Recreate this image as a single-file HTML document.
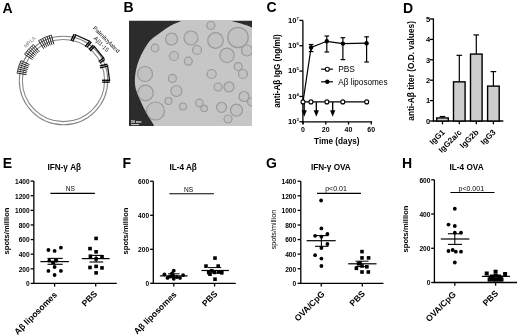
<!DOCTYPE html>
<html><head><meta charset="utf-8"><style>
html,body{margin:0;padding:0;background:#fff;overflow:hidden;}
svg{display:block;font-family:"Liberation Sans", sans-serif;filter:grayscale(100%);}
</style></head><body>
<svg width="520" height="336" viewBox="0 0 520 336">
<rect width="520" height="336" fill="#fff"/>
<text x="2.60" y="12.50" font-size="14" font-weight="bold" text-anchor="start" fill="#000">A</text>
<text x="123.60" y="12.30" font-size="14" font-weight="bold" text-anchor="start" fill="#000">B</text>
<text x="266.60" y="12.30" font-size="14" font-weight="bold" text-anchor="start" fill="#000">C</text>
<text x="403.00" y="12.50" font-size="14" font-weight="bold" text-anchor="start" fill="#000">D</text>
<text x="2.80" y="168.20" font-size="14" font-weight="bold" text-anchor="start" fill="#000">E</text>
<text x="122.60" y="168.20" font-size="14" font-weight="bold" text-anchor="start" fill="#000">F</text>
<text x="266.00" y="168.30" font-size="14" font-weight="bold" text-anchor="start" fill="#000">G</text>
<text x="402.00" y="168.20" font-size="14" font-weight="bold" text-anchor="start" fill="#000">H</text>
<circle cx="63.5" cy="80.5" r="44.2" fill="none" stroke="#858585" stroke-width="1.05"/>
<circle cx="63.5" cy="80.5" r="41.1" fill="none" stroke="#858585" stroke-width="1.05"/>
<line x1="26.46" y1="74.63" x2="17.08" y2="73.15" stroke="#262626" stroke-width="1.0" stroke-linecap="butt"/>
<line x1="26.77" y1="72.92" x2="17.47" y2="71.00" stroke="#262626" stroke-width="1.0" stroke-linecap="butt"/>
<line x1="27.17" y1="71.22" x2="17.96" y2="68.86" stroke="#262626" stroke-width="1.0" stroke-linecap="butt"/>
<line x1="27.64" y1="69.54" x2="18.55" y2="66.76" stroke="#262626" stroke-width="1.0" stroke-linecap="butt"/>
<line x1="28.19" y1="67.88" x2="19.24" y2="64.68" stroke="#262626" stroke-width="1.0" stroke-linecap="butt"/>
<line x1="28.81" y1="66.25" x2="20.03" y2="62.64" stroke="#262626" stroke-width="1.0" stroke-linecap="butt"/>
<line x1="29.51" y1="64.65" x2="20.90" y2="60.64" stroke="#262626" stroke-width="1.0" stroke-linecap="butt"/>
<path d="M17.08,73.15 A47,47 0 0 1 20.90,60.64" fill="none" stroke="#333" stroke-width="0.9"/>
<line x1="32.41" y1="59.53" x2="24.54" y2="54.22" stroke="#262626" stroke-width="1.0" stroke-linecap="butt"/>
<line x1="33.42" y1="58.11" x2="25.80" y2="52.43" stroke="#262626" stroke-width="1.0" stroke-linecap="butt"/>
<line x1="34.49" y1="56.73" x2="27.15" y2="50.71" stroke="#262626" stroke-width="1.0" stroke-linecap="butt"/>
<line x1="35.63" y1="55.41" x2="28.57" y2="49.05" stroke="#262626" stroke-width="1.0" stroke-linecap="butt"/>
<line x1="36.83" y1="54.14" x2="30.07" y2="47.46" stroke="#262626" stroke-width="1.0" stroke-linecap="butt"/>
<line x1="38.09" y1="52.93" x2="31.65" y2="45.94" stroke="#262626" stroke-width="1.0" stroke-linecap="butt"/>
<line x1="39.40" y1="51.77" x2="33.29" y2="44.50" stroke="#262626" stroke-width="1.0" stroke-linecap="butt"/>
<path d="M24.54,54.22 A47,47 0 0 1 33.29,44.50" fill="none" stroke="#333" stroke-width="0.9"/>
<line x1="43.63" y1="48.70" x2="38.59" y2="40.64" stroke="#262626" stroke-width="1.0" stroke-linecap="butt"/>
<line x1="45.22" y1="47.75" x2="40.59" y2="39.46" stroke="#262626" stroke-width="1.0" stroke-linecap="butt"/>
<line x1="46.87" y1="46.89" x2="42.65" y2="38.38" stroke="#262626" stroke-width="1.0" stroke-linecap="butt"/>
<line x1="48.55" y1="46.11" x2="44.76" y2="37.40" stroke="#262626" stroke-width="1.0" stroke-linecap="butt"/>
<line x1="50.27" y1="45.41" x2="46.91" y2="36.52" stroke="#262626" stroke-width="1.0" stroke-linecap="butt"/>
<line x1="52.02" y1="44.80" x2="49.11" y2="35.76" stroke="#262626" stroke-width="1.0" stroke-linecap="butt"/>
<line x1="53.79" y1="44.28" x2="51.34" y2="35.10" stroke="#262626" stroke-width="1.0" stroke-linecap="butt"/>
<path d="M38.59,40.64 A47,47 0 0 1 51.34,35.10" fill="none" stroke="#333" stroke-width="0.9"/>
<text x="0.00" y="0.00" font-size="5.2" font-weight="normal" text-anchor="middle" fill="#777" transform="translate(30.90,43.30) rotate(-42)">MPLA</text>
<line x1="74.90" y1="34.50" x2="90.50" y2="41.60" stroke="#111" stroke-width="1.25" stroke-linecap="butt"/>
<line x1="70.94" y1="40.81" x2="74.04" y2="34.11" stroke="#000" stroke-width="1.35" stroke-linecap="butt"/>
<line x1="72.66" y1="41.59" x2="75.76" y2="34.89" stroke="#000" stroke-width="1.35" stroke-linecap="butt"/>
<line x1="85.14" y1="46.61" x2="89.64" y2="41.21" stroke="#000" stroke-width="1.35" stroke-linecap="butt"/>
<line x1="86.86" y1="47.39" x2="91.36" y2="41.99" stroke="#000" stroke-width="1.35" stroke-linecap="butt"/>
<line x1="93.90" y1="45.80" x2="104.20" y2="58.75" stroke="#111" stroke-width="1.25" stroke-linecap="butt"/>
<line x1="88.91" y1="49.56" x2="93.31" y2="45.06" stroke="#000" stroke-width="1.35" stroke-linecap="butt"/>
<line x1="90.09" y1="51.04" x2="94.49" y2="46.54" stroke="#000" stroke-width="1.35" stroke-linecap="butt"/>
<line x1="98.71" y1="61.56" x2="103.61" y2="58.01" stroke="#000" stroke-width="1.35" stroke-linecap="butt"/>
<line x1="99.89" y1="63.04" x2="104.79" y2="59.49" stroke="#000" stroke-width="1.35" stroke-linecap="butt"/>
<line x1="107.50" y1="65.20" x2="109.70" y2="81.20" stroke="#111" stroke-width="1.25" stroke-linecap="butt"/>
<line x1="99.77" y1="65.96" x2="107.37" y2="64.26" stroke="#000" stroke-width="1.35" stroke-linecap="butt"/>
<line x1="100.03" y1="67.84" x2="107.63" y2="66.14" stroke="#000" stroke-width="1.35" stroke-linecap="butt"/>
<line x1="101.97" y1="80.26" x2="109.57" y2="80.26" stroke="#000" stroke-width="1.35" stroke-linecap="butt"/>
<line x1="102.23" y1="82.14" x2="109.83" y2="82.14" stroke="#000" stroke-width="1.35" stroke-linecap="butt"/>
<text x="0.00" y="0.00" font-size="5.9" font-weight="normal" text-anchor="middle" fill="#111" transform="translate(105.00,40.90) rotate(45)">Palmitoylated</text>
<text x="0.00" y="0.00" font-size="5.9" font-weight="normal" text-anchor="middle" fill="#111" transform="translate(99.90,45.60) rotate(45)">A&#946;1-15</text>
<defs><clipPath id="cb"><rect x="129" y="20.5" width="123" height="105.5"/></clipPath><filter id="nz" x="0" y="0" width="100%" height="100%"><feTurbulence type="fractalNoise" baseFrequency="0.9" numOctaves="2" seed="3"/><feColorMatrix type="matrix" values="0 0 0 0 0.5  0 0 0 0 0.5  0 0 0 0 0.5  0 0 0 0.35 0"/></filter></defs>
<g clip-path="url(#cb)">
<rect x="129" y="20.5" width="123" height="105.5" fill="#252525"/>
<path d="M155.50,130.00 C155.17,129.12 154.82,127.22 153.50,124.70 C152.18,122.18 149.27,117.77 147.60,114.90 C145.93,112.03 144.80,110.12 143.50,107.50 C142.20,104.88 141.08,102.28 139.80,99.20 C138.52,96.12 136.62,92.27 135.80,89.00 C134.98,85.73 134.87,82.77 134.90,79.60 C134.93,76.43 135.32,73.27 136.00,70.00 C136.68,66.73 137.68,63.37 139.00,60.00 C140.32,56.63 141.98,53.10 143.90,49.80 C145.82,46.50 147.62,43.18 150.50,40.20 C153.38,37.22 157.78,34.35 161.20,31.90 C164.62,29.45 167.43,27.40 171.00,25.50 C174.57,23.60 179.77,21.75 182.60,20.50 C185.43,19.25 187.10,18.42 188.00,18.00 L229.00,18.00 C229.25,18.42 228.50,19.57 230.50,20.50 C232.50,21.43 237.48,22.45 241.00,23.60 C244.52,24.75 248.77,26.17 251.60,27.40 C254.43,28.63 256.93,30.40 258.00,31.00 L258,132 Z" fill="#c7c7c7"/>
<clipPath id="ce"><path d="M155.50,130.00 C155.17,129.12 154.82,127.22 153.50,124.70 C152.18,122.18 149.27,117.77 147.60,114.90 C145.93,112.03 144.80,110.12 143.50,107.50 C142.20,104.88 141.08,102.28 139.80,99.20 C138.52,96.12 136.62,92.27 135.80,89.00 C134.98,85.73 134.87,82.77 134.90,79.60 C134.93,76.43 135.32,73.27 136.00,70.00 C136.68,66.73 137.68,63.37 139.00,60.00 C140.32,56.63 141.98,53.10 143.90,49.80 C145.82,46.50 147.62,43.18 150.50,40.20 C153.38,37.22 157.78,34.35 161.20,31.90 C164.62,29.45 167.43,27.40 171.00,25.50 C174.57,23.60 179.77,21.75 182.60,20.50 C185.43,19.25 187.10,18.42 188.00,18.00 L229.00,18.00 C229.25,18.42 228.50,19.57 230.50,20.50 C232.50,21.43 237.48,22.45 241.00,23.60 C244.52,24.75 248.77,26.17 251.60,27.40 C254.43,28.63 256.93,30.40 258.00,31.00 L258,132 Z"/></clipPath>
<g clip-path="url(#ce)">
<circle cx="171.5" cy="39" r="6" fill="#c2c2c2" stroke="#999999" stroke-width="1.2"/>
<circle cx="174" cy="56" r="4.5" fill="#c2c2c2" stroke="#999999" stroke-width="1.2"/>
<circle cx="155" cy="48" r="3.8" fill="#c2c2c2" stroke="#999999" stroke-width="1.2"/>
<circle cx="191" cy="38" r="7" fill="#c2c2c2" stroke="#999999" stroke-width="1.2"/>
<circle cx="146.7" cy="71.4" r="4" fill="#c2c2c2" stroke="#999999" stroke-width="1.2"/>
<circle cx="188.3" cy="61.2" r="4" fill="#c2c2c2" stroke="#999999" stroke-width="1.2"/>
<circle cx="215.5" cy="40.5" r="7.8" fill="#c2c2c2" stroke="#999999" stroke-width="1.2"/>
<circle cx="238" cy="37.5" r="10.2" fill="#c2c2c2" stroke="#999999" stroke-width="1.2"/>
<circle cx="227" cy="55.3" r="7.2" fill="#c2c2c2" stroke="#999999" stroke-width="1.2"/>
<circle cx="197" cy="50" r="4.5" fill="#c2c2c2" stroke="#999999" stroke-width="1.2"/>
<circle cx="210.9" cy="25.5" r="4" fill="#c2c2c2" stroke="#999999" stroke-width="1.2"/>
<circle cx="247" cy="50.5" r="5.5" fill="#c2c2c2" stroke="#999999" stroke-width="1.2"/>
<circle cx="238.2" cy="66.6" r="4" fill="#c2c2c2" stroke="#999999" stroke-width="1.2"/>
<circle cx="145" cy="74" r="7.5" fill="#c2c2c2" stroke="#999999" stroke-width="1.2"/>
<circle cx="145.5" cy="93" r="7.8" fill="#c2c2c2" stroke="#999999" stroke-width="1.2"/>
<circle cx="155.5" cy="111" r="9" fill="#c2c2c2" stroke="#999999" stroke-width="1.2"/>
<circle cx="172.4" cy="78.4" r="4" fill="#c2c2c2" stroke="#999999" stroke-width="1.2"/>
<circle cx="176.4" cy="91" r="5.5" fill="#c2c2c2" stroke="#999999" stroke-width="1.2"/>
<circle cx="168.5" cy="101" r="3.5" fill="#c2c2c2" stroke="#999999" stroke-width="1.2"/>
<circle cx="183" cy="106.5" r="3.5" fill="#c2c2c2" stroke="#999999" stroke-width="1.2"/>
<circle cx="211.7" cy="74" r="4.5" fill="#c2c2c2" stroke="#999999" stroke-width="1.2"/>
<circle cx="218" cy="87" r="4" fill="#c2c2c2" stroke="#999999" stroke-width="1.2"/>
<circle cx="229" cy="86.8" r="5" fill="#c2c2c2" stroke="#999999" stroke-width="1.2"/>
<circle cx="221.5" cy="107.3" r="5" fill="#c2c2c2" stroke="#999999" stroke-width="1.2"/>
<circle cx="236.5" cy="110.2" r="6" fill="#c2c2c2" stroke="#999999" stroke-width="1.2"/>
<circle cx="199.4" cy="103" r="3.8" fill="#c2c2c2" stroke="#999999" stroke-width="1.2"/>
<circle cx="204.2" cy="108.5" r="3.2" fill="#c2c2c2" stroke="#999999" stroke-width="1.2"/>
<circle cx="244" cy="96.5" r="5" fill="#c2c2c2" stroke="#999999" stroke-width="1.2"/>
<circle cx="243" cy="74" r="4.5" fill="#c2c2c2" stroke="#999999" stroke-width="1.2"/>
<circle cx="228" cy="119" r="4" fill="#c2c2c2" stroke="#999999" stroke-width="1.2"/>
<circle cx="251.6" cy="102" r="4" fill="#c2c2c2" stroke="#999999" stroke-width="1.2"/>
</g>
<rect x="129" y="20.5" width="123" height="105.5" filter="url(#nz)" opacity="0.3"/>
</g>
<text x="131.00" y="123.00" font-size="3.6" font-weight="bold" text-anchor="start" fill="#fff">50 nm</text>
<line x1="131.00" y1="124.60" x2="139.00" y2="124.60" stroke="#fff" stroke-width="0.8" stroke-linecap="butt"/>
<line x1="302.90" y1="20.40" x2="302.90" y2="124.30" stroke="#000" stroke-width="1.3" stroke-linecap="butt"/>
<line x1="302.30" y1="121.80" x2="372.10" y2="121.80" stroke="#000" stroke-width="1.3" stroke-linecap="butt"/>
<line x1="299.40" y1="121.80" x2="302.90" y2="121.80" stroke="#000" stroke-width="1.3" stroke-linecap="butt"/>
<text x="296.40" y="124.00" font-size="7.6" font-weight="bold" text-anchor="end" fill="#000">10</text>
<text x="296.50" y="120.90" font-size="4.2" font-weight="bold" text-anchor="start" fill="#000">3</text>
<line x1="299.40" y1="96.45" x2="302.90" y2="96.45" stroke="#000" stroke-width="1.3" stroke-linecap="butt"/>
<text x="296.40" y="98.65" font-size="7.6" font-weight="bold" text-anchor="end" fill="#000">10</text>
<text x="296.50" y="95.55" font-size="4.2" font-weight="bold" text-anchor="start" fill="#000">4</text>
<line x1="299.40" y1="71.10" x2="302.90" y2="71.10" stroke="#000" stroke-width="1.3" stroke-linecap="butt"/>
<text x="296.40" y="73.30" font-size="7.6" font-weight="bold" text-anchor="end" fill="#000">10</text>
<text x="296.50" y="70.20" font-size="4.2" font-weight="bold" text-anchor="start" fill="#000">5</text>
<line x1="299.40" y1="45.75" x2="302.90" y2="45.75" stroke="#000" stroke-width="1.3" stroke-linecap="butt"/>
<text x="296.40" y="47.95" font-size="7.6" font-weight="bold" text-anchor="end" fill="#000">10</text>
<text x="296.50" y="44.85" font-size="4.2" font-weight="bold" text-anchor="start" fill="#000">6</text>
<line x1="299.40" y1="20.40" x2="302.90" y2="20.40" stroke="#000" stroke-width="1.3" stroke-linecap="butt"/>
<text x="296.40" y="22.60" font-size="7.6" font-weight="bold" text-anchor="end" fill="#000">10</text>
<text x="296.50" y="19.50" font-size="4.2" font-weight="bold" text-anchor="start" fill="#000">7</text>
<line x1="303.00" y1="121.80" x2="303.00" y2="124.60" stroke="#000" stroke-width="1.3" stroke-linecap="butt"/>
<text x="303.00" y="132.20" font-size="7" font-weight="bold" text-anchor="middle" fill="#000">0</text>
<line x1="325.75" y1="121.80" x2="325.75" y2="124.60" stroke="#000" stroke-width="1.3" stroke-linecap="butt"/>
<text x="325.75" y="132.20" font-size="7" font-weight="bold" text-anchor="middle" fill="#000">20</text>
<line x1="348.50" y1="121.80" x2="348.50" y2="124.60" stroke="#000" stroke-width="1.3" stroke-linecap="butt"/>
<text x="348.50" y="132.20" font-size="7" font-weight="bold" text-anchor="middle" fill="#000">40</text>
<line x1="371.25" y1="121.80" x2="371.25" y2="124.60" stroke="#000" stroke-width="1.3" stroke-linecap="butt"/>
<text x="371.25" y="132.20" font-size="7" font-weight="bold" text-anchor="middle" fill="#000">60</text>
<text x="336.80" y="143.60" font-size="8.2" font-weight="bold" text-anchor="middle" fill="#000">Time (days)</text>
<text x="0.00" y="0.00" font-size="8.2" font-weight="bold" text-anchor="middle" fill="#000" transform="translate(280.00,71.00) rotate(-90)">anti-A&#946; IgG (ng/ml)</text>
<line x1="304.20" y1="102.00" x2="304.20" y2="112.00" stroke="#000" stroke-width="1.3" stroke-linecap="butt"/>
<path d="M301.60,110.2 L306.80,110.2 L304.20,116.7 Z" fill="#000"/>
<line x1="316.30" y1="102.00" x2="316.30" y2="112.00" stroke="#000" stroke-width="1.3" stroke-linecap="butt"/>
<path d="M313.70,110.2 L318.90,110.2 L316.30,116.7 Z" fill="#000"/>
<line x1="332.70" y1="102.00" x2="332.70" y2="112.00" stroke="#000" stroke-width="1.3" stroke-linecap="butt"/>
<path d="M330.10,110.2 L335.30,110.2 L332.70,116.7 Z" fill="#000"/>
<line x1="303.00" y1="101.90" x2="366.70" y2="101.90" stroke="#000" stroke-width="1.2" stroke-linecap="butt"/>
<polyline points="303.00,101.90 311.10,47.50 326.80,41.30 342.90,43.60 366.60,43.20" fill="none" stroke="#000" stroke-width="1.2"/>
<line x1="311.10" y1="44.50" x2="311.10" y2="51.60" stroke="#000" stroke-width="1.2" stroke-linecap="butt"/>
<line x1="308.80" y1="44.50" x2="313.40" y2="44.50" stroke="#000" stroke-width="1.2" stroke-linecap="butt"/>
<line x1="308.80" y1="51.60" x2="313.40" y2="51.60" stroke="#000" stroke-width="1.2" stroke-linecap="butt"/>
<circle cx="311.10" cy="47.50" r="2.2" fill="#000" stroke="none" stroke-width="0"/>
<line x1="326.80" y1="36.00" x2="326.80" y2="52.00" stroke="#000" stroke-width="1.2" stroke-linecap="butt"/>
<line x1="324.50" y1="36.00" x2="329.10" y2="36.00" stroke="#000" stroke-width="1.2" stroke-linecap="butt"/>
<line x1="324.50" y1="52.00" x2="329.10" y2="52.00" stroke="#000" stroke-width="1.2" stroke-linecap="butt"/>
<circle cx="326.80" cy="41.30" r="2.2" fill="#000" stroke="none" stroke-width="0"/>
<line x1="342.90" y1="37.70" x2="342.90" y2="59.60" stroke="#000" stroke-width="1.2" stroke-linecap="butt"/>
<line x1="340.60" y1="37.70" x2="345.20" y2="37.70" stroke="#000" stroke-width="1.2" stroke-linecap="butt"/>
<line x1="340.60" y1="59.60" x2="345.20" y2="59.60" stroke="#000" stroke-width="1.2" stroke-linecap="butt"/>
<circle cx="342.90" cy="43.60" r="2.2" fill="#000" stroke="none" stroke-width="0"/>
<line x1="366.60" y1="36.80" x2="366.60" y2="62.00" stroke="#000" stroke-width="1.2" stroke-linecap="butt"/>
<line x1="364.30" y1="36.80" x2="368.90" y2="36.80" stroke="#000" stroke-width="1.2" stroke-linecap="butt"/>
<line x1="364.30" y1="62.00" x2="368.90" y2="62.00" stroke="#000" stroke-width="1.2" stroke-linecap="butt"/>
<circle cx="366.60" cy="43.20" r="2.2" fill="#000" stroke="none" stroke-width="0"/>
<circle cx="303.00" cy="101.90" r="2.0" fill="#fff" stroke="#000" stroke-width="1.1"/>
<circle cx="310.96" cy="101.90" r="2.0" fill="#fff" stroke="#000" stroke-width="1.1"/>
<circle cx="326.89" cy="101.90" r="2.0" fill="#fff" stroke="#000" stroke-width="1.1"/>
<circle cx="342.81" cy="101.90" r="2.0" fill="#fff" stroke="#000" stroke-width="1.1"/>
<circle cx="366.70" cy="101.90" r="2.0" fill="#fff" stroke="#000" stroke-width="1.1"/>
<line x1="321.10" y1="69.20" x2="332.90" y2="69.20" stroke="#000" stroke-width="1.2" stroke-linecap="butt"/>
<circle cx="327.30" cy="69.20" r="2.0" fill="#fff" stroke="#000" stroke-width="1.1"/>
<text x="338.20" y="72.20" font-size="8.4" font-weight="normal" text-anchor="start" fill="#000">PBS</text>
<line x1="321.10" y1="81.80" x2="332.90" y2="81.80" stroke="#000" stroke-width="1.2" stroke-linecap="butt"/>
<circle cx="327.30" cy="81.80" r="2.2" fill="#000" stroke="none" stroke-width="0"/>
<text x="338.20" y="84.60" font-size="8.2" font-weight="normal" text-anchor="start" fill="#000">A&#946; liposomes</text>
<line x1="433.40" y1="18.40" x2="433.40" y2="121.60" stroke="#000" stroke-width="1.3" stroke-linecap="butt"/>
<line x1="432.80" y1="121.00" x2="503.30" y2="121.00" stroke="#000" stroke-width="1.3" stroke-linecap="butt"/>
<line x1="429.80" y1="121.00" x2="433.40" y2="121.00" stroke="#000" stroke-width="1.3" stroke-linecap="butt"/>
<text x="430.20" y="123.70" font-size="7.5" font-weight="bold" text-anchor="end" fill="#000">0</text>
<line x1="429.80" y1="100.60" x2="433.40" y2="100.60" stroke="#000" stroke-width="1.3" stroke-linecap="butt"/>
<text x="430.20" y="103.30" font-size="7.5" font-weight="bold" text-anchor="end" fill="#000">1</text>
<line x1="429.80" y1="80.20" x2="433.40" y2="80.20" stroke="#000" stroke-width="1.3" stroke-linecap="butt"/>
<text x="430.20" y="82.90" font-size="7.5" font-weight="bold" text-anchor="end" fill="#000">2</text>
<line x1="429.80" y1="59.80" x2="433.40" y2="59.80" stroke="#000" stroke-width="1.3" stroke-linecap="butt"/>
<text x="430.20" y="62.50" font-size="7.5" font-weight="bold" text-anchor="end" fill="#000">3</text>
<line x1="429.80" y1="39.40" x2="433.40" y2="39.40" stroke="#000" stroke-width="1.3" stroke-linecap="butt"/>
<text x="430.20" y="42.10" font-size="7.5" font-weight="bold" text-anchor="end" fill="#000">4</text>
<line x1="429.80" y1="19.00" x2="433.40" y2="19.00" stroke="#000" stroke-width="1.3" stroke-linecap="butt"/>
<text x="430.20" y="21.70" font-size="7.5" font-weight="bold" text-anchor="end" fill="#000">5</text>
<line x1="442.50" y1="116.51" x2="442.50" y2="117.94" stroke="#000" stroke-width="1.2" stroke-linecap="butt"/>
<line x1="439.70" y1="116.51" x2="445.30" y2="116.51" stroke="#000" stroke-width="1.2" stroke-linecap="butt"/>
<rect x="436.70" y="117.94" width="11.6" height="3.06" fill="#cdcdcd" stroke="#000" stroke-width="1.4"/>
<line x1="442.50" y1="121.00" x2="442.50" y2="124.30" stroke="#000" stroke-width="1.3" stroke-linecap="butt"/>
<text x="0.00" y="0.00" font-size="8.0" font-weight="bold" text-anchor="end" fill="#000" transform="translate(445.30,132.80) rotate(-45)">IgG1</text>
<line x1="459.30" y1="55.31" x2="459.30" y2="81.83" stroke="#000" stroke-width="1.2" stroke-linecap="butt"/>
<line x1="456.50" y1="55.31" x2="462.10" y2="55.31" stroke="#000" stroke-width="1.2" stroke-linecap="butt"/>
<rect x="453.50" y="81.83" width="11.6" height="39.17" fill="#cdcdcd" stroke="#000" stroke-width="1.4"/>
<line x1="459.30" y1="121.00" x2="459.30" y2="124.30" stroke="#000" stroke-width="1.3" stroke-linecap="butt"/>
<text x="0.00" y="0.00" font-size="8.0" font-weight="bold" text-anchor="end" fill="#000" transform="translate(462.10,132.80) rotate(-45)">IgG2a/c</text>
<line x1="476.30" y1="34.91" x2="476.30" y2="54.09" stroke="#000" stroke-width="1.2" stroke-linecap="butt"/>
<line x1="473.50" y1="34.91" x2="479.10" y2="34.91" stroke="#000" stroke-width="1.2" stroke-linecap="butt"/>
<rect x="470.50" y="54.09" width="11.6" height="66.91" fill="#cdcdcd" stroke="#000" stroke-width="1.4"/>
<line x1="476.30" y1="121.00" x2="476.30" y2="124.30" stroke="#000" stroke-width="1.3" stroke-linecap="butt"/>
<text x="0.00" y="0.00" font-size="8.0" font-weight="bold" text-anchor="end" fill="#000" transform="translate(479.10,132.80) rotate(-45)">IgG2b</text>
<line x1="493.40" y1="71.63" x2="493.40" y2="86.12" stroke="#000" stroke-width="1.2" stroke-linecap="butt"/>
<line x1="490.60" y1="71.63" x2="496.20" y2="71.63" stroke="#000" stroke-width="1.2" stroke-linecap="butt"/>
<rect x="487.60" y="86.12" width="11.6" height="34.88" fill="#cdcdcd" stroke="#000" stroke-width="1.4"/>
<line x1="493.40" y1="121.00" x2="493.40" y2="124.30" stroke="#000" stroke-width="1.3" stroke-linecap="butt"/>
<text x="0.00" y="0.00" font-size="8.0" font-weight="bold" text-anchor="end" fill="#000" transform="translate(496.20,132.80) rotate(-45)">IgG3</text>
<text x="0.00" y="0.00" font-size="8.3" font-weight="bold" text-anchor="middle" fill="#000" transform="translate(414.40,70.90) rotate(-90)">anti-A&#946; titer (O.D. values)</text>
<line x1="33.85" y1="181.10" x2="33.85" y2="284.00" stroke="#000" stroke-width="1.3" stroke-linecap="butt"/>
<line x1="33.25" y1="283.40" x2="116.80" y2="283.40" stroke="#000" stroke-width="1.3" stroke-linecap="butt"/>
<line x1="30.65" y1="283.40" x2="33.85" y2="283.40" stroke="#000" stroke-width="1.3" stroke-linecap="butt"/>
<text x="29.70" y="286.30" font-size="6.6" font-weight="bold" text-anchor="end" fill="#000">0</text>
<line x1="30.65" y1="268.79" x2="33.85" y2="268.79" stroke="#000" stroke-width="1.3" stroke-linecap="butt"/>
<text x="29.70" y="271.69" font-size="6.6" font-weight="bold" text-anchor="end" fill="#000">200</text>
<line x1="30.65" y1="254.17" x2="33.85" y2="254.17" stroke="#000" stroke-width="1.3" stroke-linecap="butt"/>
<text x="29.70" y="257.07" font-size="6.6" font-weight="bold" text-anchor="end" fill="#000">400</text>
<line x1="30.65" y1="239.56" x2="33.85" y2="239.56" stroke="#000" stroke-width="1.3" stroke-linecap="butt"/>
<text x="29.70" y="242.46" font-size="6.6" font-weight="bold" text-anchor="end" fill="#000">600</text>
<line x1="30.65" y1="224.94" x2="33.85" y2="224.94" stroke="#000" stroke-width="1.3" stroke-linecap="butt"/>
<text x="29.70" y="227.84" font-size="6.6" font-weight="bold" text-anchor="end" fill="#000">800</text>
<line x1="30.65" y1="210.33" x2="33.85" y2="210.33" stroke="#000" stroke-width="1.3" stroke-linecap="butt"/>
<text x="29.70" y="213.23" font-size="6.6" font-weight="bold" text-anchor="end" fill="#000">1000</text>
<line x1="30.65" y1="195.71" x2="33.85" y2="195.71" stroke="#000" stroke-width="1.3" stroke-linecap="butt"/>
<text x="29.70" y="198.61" font-size="6.6" font-weight="bold" text-anchor="end" fill="#000">1200</text>
<line x1="30.65" y1="181.10" x2="33.85" y2="181.10" stroke="#000" stroke-width="1.3" stroke-linecap="butt"/>
<text x="29.70" y="184.00" font-size="6.6" font-weight="bold" text-anchor="end" fill="#000">1400</text>
<line x1="54.60" y1="283.40" x2="54.60" y2="286.60" stroke="#000" stroke-width="1.3" stroke-linecap="butt"/>
<line x1="95.70" y1="283.40" x2="95.70" y2="286.60" stroke="#000" stroke-width="1.3" stroke-linecap="butt"/>
<text x="47.40" y="170.00" font-size="8.2" font-weight="bold" text-anchor="start" fill="#000">IFN-&#947; A&#946;</text>
<line x1="50.40" y1="193.40" x2="94.90" y2="193.40" stroke="#000" stroke-width="1.1" stroke-linecap="butt"/>
<text x="70.30" y="191.40" font-size="6.6" font-weight="normal" text-anchor="middle" fill="#000">NS</text>
<text x="0.00" y="0.00" font-size="7.6" font-weight="bold" text-anchor="middle" fill="#000" transform="translate(9.40,231.00) rotate(-90)">spots/million</text>
<text x="0.00" y="0.00" font-size="8.6" font-weight="bold" text-anchor="end" fill="#000" transform="translate(57.60,295.40) rotate(-45)">A&#946; liposomes</text>
<text x="0.00" y="0.00" font-size="8.6" font-weight="bold" text-anchor="end" fill="#000" transform="translate(97.80,294.40) rotate(-45)">PBS</text>
<circle cx="48.40" cy="250.00" r="1.9" fill="#000" stroke="none" stroke-width="0"/>
<circle cx="54.60" cy="250.90" r="1.9" fill="#000" stroke="none" stroke-width="0"/>
<circle cx="60.90" cy="247.70" r="1.9" fill="#000" stroke="none" stroke-width="0"/>
<circle cx="49.30" cy="260.70" r="1.9" fill="#000" stroke="none" stroke-width="0"/>
<circle cx="52.90" cy="262.50" r="1.9" fill="#000" stroke="none" stroke-width="0"/>
<circle cx="56.40" cy="260.70" r="1.9" fill="#000" stroke="none" stroke-width="0"/>
<circle cx="54.60" cy="267.00" r="1.9" fill="#000" stroke="none" stroke-width="0"/>
<circle cx="48.40" cy="270.90" r="1.9" fill="#000" stroke="none" stroke-width="0"/>
<circle cx="60.90" cy="270.90" r="1.9" fill="#000" stroke="none" stroke-width="0"/>
<circle cx="54.60" cy="275.00" r="1.9" fill="#000" stroke="none" stroke-width="0"/>
<rect x="94.30" y="236.60" width="3.6" height="3.6" fill="#000"/>
<rect x="88.20" y="246.80" width="3.6" height="3.6" fill="#000"/>
<rect x="94.30" y="250.00" width="3.6" height="3.6" fill="#000"/>
<rect x="88.60" y="254.50" width="3.6" height="3.6" fill="#000"/>
<rect x="100.20" y="255.00" width="3.6" height="3.6" fill="#000"/>
<rect x="94.30" y="257.10" width="3.6" height="3.6" fill="#000"/>
<rect x="88.20" y="265.70" width="3.6" height="3.6" fill="#000"/>
<rect x="94.30" y="264.60" width="3.6" height="3.6" fill="#000"/>
<rect x="100.20" y="266.10" width="3.6" height="3.6" fill="#000"/>
<rect x="94.30" y="271.10" width="3.6" height="3.6" fill="#000"/>
<line x1="40.40" y1="261.60" x2="68.90" y2="261.60" stroke="#000" stroke-width="1.2" stroke-linecap="butt"/>
<line x1="47.50" y1="258.40" x2="62.70" y2="258.40" stroke="#000" stroke-width="1.1" stroke-linecap="butt"/>
<line x1="47.50" y1="264.30" x2="62.70" y2="264.30" stroke="#000" stroke-width="1.1" stroke-linecap="butt"/>
<line x1="54.60" y1="258.40" x2="54.60" y2="264.30" stroke="#000" stroke-width="1.1" stroke-linecap="butt"/>
<line x1="81.80" y1="258.60" x2="109.60" y2="258.60" stroke="#000" stroke-width="1.2" stroke-linecap="butt"/>
<line x1="89.50" y1="255.40" x2="103.20" y2="255.40" stroke="#000" stroke-width="1.1" stroke-linecap="butt"/>
<line x1="89.50" y1="262.00" x2="103.20" y2="262.00" stroke="#000" stroke-width="1.1" stroke-linecap="butt"/>
<line x1="96.10" y1="255.40" x2="96.10" y2="262.00" stroke="#000" stroke-width="1.1" stroke-linecap="butt"/>
<line x1="153.30" y1="181.25" x2="153.30" y2="283.90" stroke="#000" stroke-width="1.3" stroke-linecap="butt"/>
<line x1="152.70" y1="283.30" x2="235.80" y2="283.30" stroke="#000" stroke-width="1.3" stroke-linecap="butt"/>
<line x1="150.10" y1="283.30" x2="153.30" y2="283.30" stroke="#000" stroke-width="1.3" stroke-linecap="butt"/>
<text x="149.10" y="286.20" font-size="6.6" font-weight="bold" text-anchor="end" fill="#000">0</text>
<line x1="150.10" y1="249.28" x2="153.30" y2="249.28" stroke="#000" stroke-width="1.3" stroke-linecap="butt"/>
<text x="149.10" y="252.18" font-size="6.6" font-weight="bold" text-anchor="end" fill="#000">200</text>
<line x1="150.10" y1="215.27" x2="153.30" y2="215.27" stroke="#000" stroke-width="1.3" stroke-linecap="butt"/>
<text x="149.10" y="218.17" font-size="6.6" font-weight="bold" text-anchor="end" fill="#000">400</text>
<line x1="150.10" y1="181.25" x2="153.30" y2="181.25" stroke="#000" stroke-width="1.3" stroke-linecap="butt"/>
<text x="149.10" y="184.15" font-size="6.6" font-weight="bold" text-anchor="end" fill="#000">600</text>
<line x1="173.80" y1="283.30" x2="173.80" y2="286.50" stroke="#000" stroke-width="1.3" stroke-linecap="butt"/>
<line x1="214.60" y1="283.30" x2="214.60" y2="286.50" stroke="#000" stroke-width="1.3" stroke-linecap="butt"/>
<text x="169.40" y="170.00" font-size="8.2" font-weight="bold" text-anchor="start" fill="#000">IL-4 A&#946;</text>
<line x1="169.30" y1="193.70" x2="213.90" y2="193.70" stroke="#000" stroke-width="1.1" stroke-linecap="butt"/>
<text x="188.60" y="191.70" font-size="6.6" font-weight="normal" text-anchor="middle" fill="#000">NS</text>
<text x="0.00" y="0.00" font-size="7.6" font-weight="bold" text-anchor="middle" fill="#000" transform="translate(128.40,231.00) rotate(-90)">spots/million</text>
<text x="0.00" y="0.00" font-size="8.6" font-weight="bold" text-anchor="end" fill="#000" transform="translate(177.20,295.00) rotate(-45)">A&#946; liposomes</text>
<text x="0.00" y="0.00" font-size="8.6" font-weight="bold" text-anchor="end" fill="#000" transform="translate(218.00,294.40) rotate(-45)">PBS</text>
<circle cx="164.40" cy="274.30" r="1.9" fill="#000" stroke="none" stroke-width="0"/>
<circle cx="167.50" cy="277.90" r="1.9" fill="#000" stroke="none" stroke-width="0"/>
<circle cx="172.00" cy="273.40" r="1.9" fill="#000" stroke="none" stroke-width="0"/>
<circle cx="173.75" cy="270.70" r="1.9" fill="#000" stroke="none" stroke-width="0"/>
<circle cx="173.30" cy="275.60" r="1.9" fill="#000" stroke="none" stroke-width="0"/>
<circle cx="173.75" cy="278.75" r="1.9" fill="#000" stroke="none" stroke-width="0"/>
<circle cx="176.90" cy="277.00" r="1.9" fill="#000" stroke="none" stroke-width="0"/>
<circle cx="180.00" cy="277.90" r="1.9" fill="#000" stroke="none" stroke-width="0"/>
<circle cx="183.10" cy="275.20" r="1.9" fill="#000" stroke="none" stroke-width="0"/>
<circle cx="170.00" cy="276.50" r="1.9" fill="#000" stroke="none" stroke-width="0"/>
<rect x="213.20" y="256.30" width="3.6" height="3.6" fill="#000"/>
<rect x="204.20" y="264.30" width="3.6" height="3.6" fill="#000"/>
<rect x="216.40" y="264.30" width="3.6" height="3.6" fill="#000"/>
<rect x="206.90" y="270.70" width="3.6" height="3.6" fill="#000"/>
<rect x="209.90" y="269.00" width="3.6" height="3.6" fill="#000"/>
<rect x="212.80" y="270.60" width="3.6" height="3.6" fill="#000"/>
<rect x="217.00" y="270.20" width="3.6" height="3.6" fill="#000"/>
<rect x="220.00" y="271.00" width="3.6" height="3.6" fill="#000"/>
<rect x="213.20" y="277.40" width="3.6" height="3.6" fill="#000"/>
<rect x="208.20" y="272.40" width="3.6" height="3.6" fill="#000"/>
<line x1="159.90" y1="275.90" x2="187.60" y2="275.90" stroke="#000" stroke-width="1.2" stroke-linecap="butt"/>
<line x1="201.50" y1="270.50" x2="228.90" y2="270.50" stroke="#000" stroke-width="1.2" stroke-linecap="butt"/>
<line x1="168.00" y1="273.80" x2="179.60" y2="273.80" stroke="#000" stroke-width="1.0" stroke-linecap="butt"/>
<line x1="168.00" y1="277.60" x2="179.60" y2="277.60" stroke="#000" stroke-width="1.0" stroke-linecap="butt"/>
<line x1="208.00" y1="267.60" x2="221.20" y2="267.60" stroke="#000" stroke-width="1.0" stroke-linecap="butt"/>
<line x1="208.00" y1="273.00" x2="221.20" y2="273.00" stroke="#000" stroke-width="1.0" stroke-linecap="butt"/>
<line x1="300.80" y1="181.25" x2="300.80" y2="283.90" stroke="#000" stroke-width="1.3" stroke-linecap="butt"/>
<line x1="300.20" y1="283.30" x2="383.50" y2="283.30" stroke="#000" stroke-width="1.3" stroke-linecap="butt"/>
<line x1="297.60" y1="283.30" x2="300.80" y2="283.30" stroke="#000" stroke-width="1.3" stroke-linecap="butt"/>
<text x="296.20" y="286.20" font-size="6.6" font-weight="bold" text-anchor="end" fill="#000">0</text>
<line x1="297.60" y1="268.72" x2="300.80" y2="268.72" stroke="#000" stroke-width="1.3" stroke-linecap="butt"/>
<text x="296.20" y="271.62" font-size="6.6" font-weight="bold" text-anchor="end" fill="#000">200</text>
<line x1="297.60" y1="254.14" x2="300.80" y2="254.14" stroke="#000" stroke-width="1.3" stroke-linecap="butt"/>
<text x="296.20" y="257.04" font-size="6.6" font-weight="bold" text-anchor="end" fill="#000">400</text>
<line x1="297.60" y1="239.56" x2="300.80" y2="239.56" stroke="#000" stroke-width="1.3" stroke-linecap="butt"/>
<text x="296.20" y="242.46" font-size="6.6" font-weight="bold" text-anchor="end" fill="#000">600</text>
<line x1="297.60" y1="224.99" x2="300.80" y2="224.99" stroke="#000" stroke-width="1.3" stroke-linecap="butt"/>
<text x="296.20" y="227.89" font-size="6.6" font-weight="bold" text-anchor="end" fill="#000">800</text>
<line x1="297.60" y1="210.41" x2="300.80" y2="210.41" stroke="#000" stroke-width="1.3" stroke-linecap="butt"/>
<text x="296.20" y="213.31" font-size="6.6" font-weight="bold" text-anchor="end" fill="#000">1000</text>
<line x1="297.60" y1="195.83" x2="300.80" y2="195.83" stroke="#000" stroke-width="1.3" stroke-linecap="butt"/>
<text x="296.20" y="198.73" font-size="6.6" font-weight="bold" text-anchor="end" fill="#000">1200</text>
<line x1="297.60" y1="181.25" x2="300.80" y2="181.25" stroke="#000" stroke-width="1.3" stroke-linecap="butt"/>
<text x="296.20" y="184.15" font-size="6.6" font-weight="bold" text-anchor="end" fill="#000">1400</text>
<line x1="321.30" y1="283.30" x2="321.30" y2="286.50" stroke="#000" stroke-width="1.3" stroke-linecap="butt"/>
<line x1="362.30" y1="283.30" x2="362.30" y2="286.50" stroke="#000" stroke-width="1.3" stroke-linecap="butt"/>
<text x="310.90" y="170.00" font-size="8.2" font-weight="bold" text-anchor="start" fill="#000">IFN-&#947; OVA</text>
<line x1="317.00" y1="193.40" x2="361.00" y2="193.40" stroke="#000" stroke-width="1.1" stroke-linecap="butt"/>
<text x="336.00" y="191.40" font-size="7" font-weight="normal" text-anchor="middle" fill="#000">p&lt;0.01</text>
<text x="0.00" y="0.00" font-size="7.2" font-weight="normal" text-anchor="middle" fill="#000" transform="translate(276.30,229.50) rotate(-90)">spots/million</text>
<text x="0.00" y="0.00" font-size="8.6" font-weight="bold" text-anchor="end" fill="#000" transform="translate(325.20,294.60) rotate(-45)">OVA/CpG</text>
<text x="0.00" y="0.00" font-size="8.6" font-weight="bold" text-anchor="end" fill="#000" transform="translate(365.60,294.20) rotate(-45)">PBS</text>
<circle cx="321.10" cy="200.50" r="1.9" fill="#000" stroke="none" stroke-width="0"/>
<circle cx="321.40" cy="228.40" r="1.9" fill="#000" stroke="none" stroke-width="0"/>
<circle cx="315.10" cy="235.80" r="1.9" fill="#000" stroke="none" stroke-width="0"/>
<circle cx="327.40" cy="234.00" r="1.9" fill="#000" stroke="none" stroke-width="0"/>
<circle cx="321.40" cy="236.70" r="1.9" fill="#000" stroke="none" stroke-width="0"/>
<circle cx="327.40" cy="244.00" r="1.9" fill="#000" stroke="none" stroke-width="0"/>
<circle cx="321.40" cy="248.00" r="1.9" fill="#000" stroke="none" stroke-width="0"/>
<circle cx="315.10" cy="255.20" r="1.9" fill="#000" stroke="none" stroke-width="0"/>
<circle cx="321.40" cy="258.60" r="1.9" fill="#000" stroke="none" stroke-width="0"/>
<circle cx="321.40" cy="266.00" r="1.9" fill="#000" stroke="none" stroke-width="0"/>
<rect x="360.20" y="249.80" width="3.6" height="3.6" fill="#000"/>
<rect x="360.20" y="256.10" width="3.6" height="3.6" fill="#000"/>
<rect x="366.80" y="256.10" width="3.6" height="3.6" fill="#000"/>
<rect x="356.80" y="262.00" width="3.6" height="3.6" fill="#000"/>
<rect x="354.60" y="266.50" width="3.6" height="3.6" fill="#000"/>
<rect x="365.00" y="265.00" width="3.6" height="3.6" fill="#000"/>
<rect x="360.20" y="264.20" width="3.6" height="3.6" fill="#000"/>
<rect x="360.20" y="270.20" width="3.6" height="3.6" fill="#000"/>
<rect x="366.50" y="270.20" width="3.6" height="3.6" fill="#000"/>
<rect x="358.20" y="261.20" width="3.6" height="3.6" fill="#000"/>
<line x1="306.60" y1="240.70" x2="335.70" y2="240.70" stroke="#000" stroke-width="1.2" stroke-linecap="butt"/>
<line x1="315.00" y1="235.60" x2="328.50" y2="235.60" stroke="#000" stroke-width="1.1" stroke-linecap="butt"/>
<line x1="315.00" y1="246.30" x2="328.50" y2="246.30" stroke="#000" stroke-width="1.1" stroke-linecap="butt"/>
<line x1="321.40" y1="235.60" x2="321.40" y2="246.30" stroke="#000" stroke-width="1.1" stroke-linecap="butt"/>
<line x1="348.20" y1="263.80" x2="376.50" y2="263.80" stroke="#000" stroke-width="1.2" stroke-linecap="butt"/>
<line x1="355.50" y1="261.20" x2="368.50" y2="261.20" stroke="#000" stroke-width="1.0" stroke-linecap="butt"/>
<line x1="355.50" y1="266.60" x2="368.50" y2="266.60" stroke="#000" stroke-width="1.0" stroke-linecap="butt"/>
<line x1="434.40" y1="179.80" x2="434.40" y2="283.10" stroke="#000" stroke-width="1.3" stroke-linecap="butt"/>
<line x1="433.80" y1="282.50" x2="517.00" y2="282.50" stroke="#000" stroke-width="1.3" stroke-linecap="butt"/>
<line x1="431.20" y1="282.50" x2="434.40" y2="282.50" stroke="#000" stroke-width="1.3" stroke-linecap="butt"/>
<text x="430.40" y="285.40" font-size="6.6" font-weight="bold" text-anchor="end" fill="#000">0</text>
<line x1="431.20" y1="248.27" x2="434.40" y2="248.27" stroke="#000" stroke-width="1.3" stroke-linecap="butt"/>
<text x="430.40" y="251.17" font-size="6.6" font-weight="bold" text-anchor="end" fill="#000">200</text>
<line x1="431.20" y1="214.03" x2="434.40" y2="214.03" stroke="#000" stroke-width="1.3" stroke-linecap="butt"/>
<text x="430.40" y="216.93" font-size="6.6" font-weight="bold" text-anchor="end" fill="#000">400</text>
<line x1="431.20" y1="179.80" x2="434.40" y2="179.80" stroke="#000" stroke-width="1.3" stroke-linecap="butt"/>
<text x="430.40" y="182.70" font-size="6.6" font-weight="bold" text-anchor="end" fill="#000">600</text>
<line x1="454.80" y1="282.50" x2="454.80" y2="285.70" stroke="#000" stroke-width="1.3" stroke-linecap="butt"/>
<line x1="495.60" y1="282.50" x2="495.60" y2="285.70" stroke="#000" stroke-width="1.3" stroke-linecap="butt"/>
<text x="449.60" y="170.00" font-size="8.2" font-weight="bold" text-anchor="start" fill="#000">IL-4 OVA</text>
<line x1="450.40" y1="192.50" x2="494.50" y2="192.50" stroke="#000" stroke-width="1.1" stroke-linecap="butt"/>
<text x="471.30" y="190.50" font-size="7" font-weight="normal" text-anchor="middle" fill="#000">p&lt;0.001</text>
<text x="0.00" y="0.00" font-size="7.6" font-weight="bold" text-anchor="middle" fill="#000" transform="translate(408.30,229.00) rotate(-90)">spots/million</text>
<text x="0.00" y="0.00" font-size="8.6" font-weight="bold" text-anchor="end" fill="#000" transform="translate(456.40,295.00) rotate(-45)">OVA/CpG</text>
<text x="0.00" y="0.00" font-size="8.6" font-weight="bold" text-anchor="end" fill="#000" transform="translate(498.80,294.00) rotate(-45)">PBS</text>
<circle cx="454.80" cy="208.75" r="1.9" fill="#000" stroke="none" stroke-width="0"/>
<circle cx="448.50" cy="224.60" r="1.9" fill="#000" stroke="none" stroke-width="0"/>
<circle cx="454.80" cy="226.00" r="1.9" fill="#000" stroke="none" stroke-width="0"/>
<circle cx="454.80" cy="232.70" r="1.9" fill="#000" stroke="none" stroke-width="0"/>
<circle cx="461.00" cy="232.70" r="1.9" fill="#000" stroke="none" stroke-width="0"/>
<circle cx="448.50" cy="251.00" r="1.9" fill="#000" stroke="none" stroke-width="0"/>
<circle cx="452.70" cy="250.00" r="1.9" fill="#000" stroke="none" stroke-width="0"/>
<circle cx="455.80" cy="251.70" r="1.9" fill="#000" stroke="none" stroke-width="0"/>
<circle cx="461.00" cy="251.70" r="1.9" fill="#000" stroke="none" stroke-width="0"/>
<circle cx="454.80" cy="262.50" r="1.9" fill="#000" stroke="none" stroke-width="0"/>
<rect x="484.70" y="271.50" width="4.0" height="4.0" fill="#000"/>
<rect x="493.60" y="269.70" width="4.0" height="4.0" fill="#000"/>
<rect x="503.10" y="272.00" width="4.0" height="4.0" fill="#000"/>
<rect x="487.60" y="277.60" width="4.0" height="4.0" fill="#000"/>
<rect x="491.20" y="277.60" width="4.0" height="4.0" fill="#000"/>
<rect x="496.60" y="277.60" width="4.0" height="4.0" fill="#000"/>
<rect x="499.50" y="277.60" width="4.0" height="4.0" fill="#000"/>
<rect x="493.60" y="273.80" width="4.0" height="4.0" fill="#000"/>
<rect x="490.00" y="274.50" width="4.0" height="4.0" fill="#000"/>
<rect x="497.00" y="274.50" width="4.0" height="4.0" fill="#000"/>
<rect x="493.60" y="277.60" width="4.0" height="4.0" fill="#000"/>
<rect x="488.50" y="275.50" width="4.0" height="4.0" fill="#000"/>
<rect x="498.70" y="275.50" width="4.0" height="4.0" fill="#000"/>
<line x1="440.80" y1="239.00" x2="469.40" y2="239.00" stroke="#000" stroke-width="1.2" stroke-linecap="butt"/>
<line x1="447.90" y1="233.75" x2="462.00" y2="233.75" stroke="#000" stroke-width="1.1" stroke-linecap="butt"/>
<line x1="447.90" y1="244.40" x2="462.00" y2="244.40" stroke="#000" stroke-width="1.1" stroke-linecap="butt"/>
<line x1="454.80" y1="233.75" x2="454.80" y2="244.40" stroke="#000" stroke-width="1.1" stroke-linecap="butt"/>
<line x1="481.90" y1="276.40" x2="509.90" y2="276.40" stroke="#000" stroke-width="1.2" stroke-linecap="butt"/>
</svg>
</body></html>
